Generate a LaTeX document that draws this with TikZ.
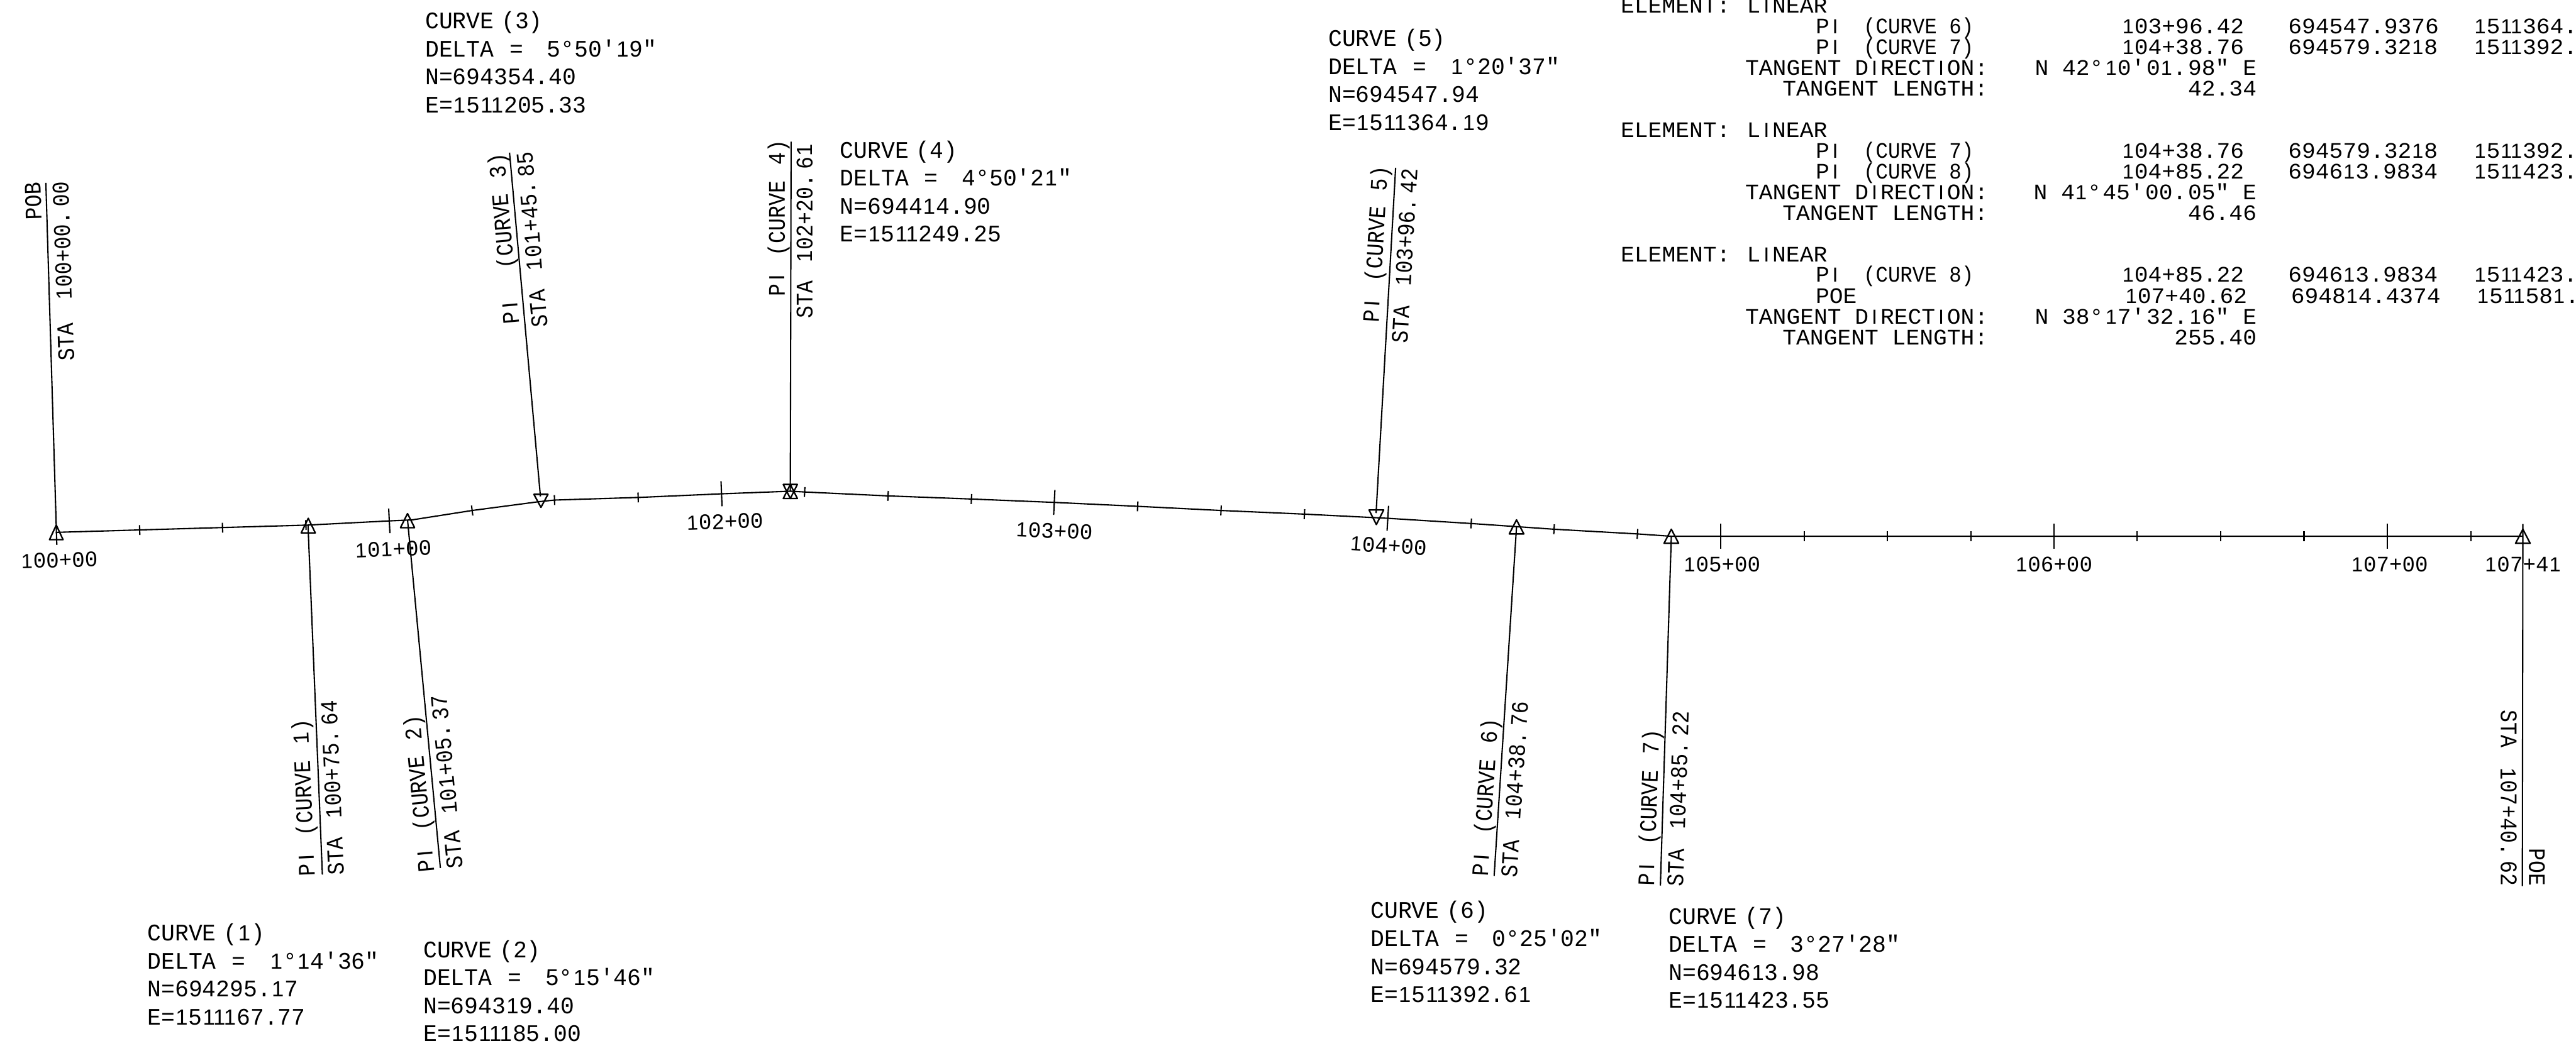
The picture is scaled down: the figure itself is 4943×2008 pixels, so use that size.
\documentclass[tikz,border=0pt]{standalone}
\usepackage{fontspec}
\setmainfont{Liberation Sans}
\newfontfamily\curvefam[FakeStretch=0.965]{Liberation Mono}
\newfontfamily\rotfam[FakeStretch=0.88]{Liberation Mono}
\newfontfamily\tabfam[FakeStretch=1.03]{Liberation Mono}
\newfontfamily\tabcfam[FakeStretch=0.92]{Liberation Mono}
\newfontfamily\stnfam[FakeStretch=0.97]{Liberation Mono}
\newfontfamily\barfam[Scale=0.92]{Liberation Sans}
% the digit 1 and the letter I are set as plain strokes, as in the CAD lettering
\newXeTeXintercharclass\oneclass
\newXeTeXintercharclass\eyeclass
\XeTeXcharclass`1=\oneclass
\XeTeXcharclass`I=\eyeclass
\newcommand\openone{\begingroup\barfam\kern.03em }
\newcommand\closeone{\kern.03em\endgroup}
\newcommand\openeye{\begingroup\barfam\kern.15em }
\newcommand\closeeye{\kern.15em\endgroup}
\XeTeXinterchartoks 0 \oneclass={\openone}
\XeTeXinterchartoks 4095 \oneclass={\openone}
\XeTeXinterchartoks \oneclass 0={\closeone}
\XeTeXinterchartoks \oneclass 4095={\closeone}
\XeTeXinterchartoks 0 \eyeclass={\openeye}
\XeTeXinterchartoks 4095 \eyeclass={\openeye}
\XeTeXinterchartoks \eyeclass 0={\closeeye}
\XeTeXinterchartoks \eyeclass 4095={\closeeye}
\XeTeXinterchartoks \oneclass \eyeclass={\closeone\openeye}
\XeTeXinterchartoks \eyeclass \oneclass={\closeeye\openone}
\newdimen\pxu \pxu=0.28453pt
\newcommand\curvefont{\XeTeXinterchartokenstate=1 \curvefam\fontsize{12.95}{15}\selectfont}
\newcommand\rotfont{\XeTeXinterchartokenstate=1 \rotfam\fontsize{12.95}{15}\selectfont}
\newcommand\tabfont{\XeTeXinterchartokenstate=1 \tabfam\fontsize{12.1}{14}\selectfont}
\newcommand\stnfont{\XeTeXinterchartokenstate=1 \stnfam\fontsize{12.1}{14}\selectfont}
% small gaps the lettering leaves after degree, minute and decimal marks
\newcommand\dg{°\kern3\pxu}
\newcommand\mn{′\kern3\pxu}
\newcommand\pd{.\kern10\pxu}
\newcommand\tpd{.\kern3\pxu}
\tikzset{
  txt/.style={inner sep=0pt,outer sep=0pt,font=\curvefont,text=black},
  rot/.style={inner sep=0pt,outer sep=0pt,font=\rotfont,text=black},
  tab/.style={inner sep=0pt,outer sep=0pt,font=\tabfont,text=black},
  stn/.style={inner sep=0pt,outer sep=0pt,font=\stnfont,text=black},
  align line/.style={line width=0.72pt,line join=round},
  leader/.style={line width=0.72pt},
  tickmark/.style={line width=0.72pt},
  pimark/.style={line width=0.8pt,line join=round}
}
\newcommand\curveblock[6]{%
  \node[txt,anchor=base west] (c#3a) at (#1,#2) {\hbox to 225\pxu{CURVE\hfil(#3)}};
  \node[txt,anchor=base west] (c#3b) at ({#1},{#2+53.8}) {\hbox to 444\pxu{DELTA\hspace{30\pxu}=\hfil #4}};
  \node[txt,anchor=base west] (c#3c) at ({#1},{#2+107.6}) {N=#5};
  \node[txt,anchor=base west] (c#3d) at ({#1},{#2+161.4}) {E=#6};
}
\newcommand\pilab[2]{\hbox to #1\pxu{PI\hfil(CURVE\hspace{30\pxu}#2)}}
\newcommand\stalab[2]{\hbox to #1\pxu{STA\hfil #2}}
\newcommand\triup[4]{\draw[pimark] (#1,#2) -- ({#1-#4},#3) -- ({#1+#4},#3) -- cycle;}
\newcommand\tpi[1]{PI\hfil{\tabcfam (CURVE #1)}}
\newcommand\tabrow[7]{%
  \node[tab,anchor=base west] at (3484,#1) {\hbox to 303\pxu{#2}};
  \node[tab,anchor=base east] at (#3,#1) {#4};
  \node[tab,anchor=base west] at (#5,#1) {#6};
  \node[tab,anchor=base west] at ({#5+356.4},#1) {#7};
}
\newcommand\tabblock[3]{%
  \node[tab,anchor=base west] at (3110,#1) {ELEMENT:};
  \node[tab,anchor=base west] at (3352,#1) {LINEAR};
  \node[tab,anchor=base east] at (3815,{#1+119.5}) {TANGENT DIRECTION:};
  \node[tab,anchor=base east] at (3815,{#1+159}) {TANGENT LENGTH:};
  \node[tab,anchor=base east] at (4330,{#1+119.5}) {#2};
  \node[tab,anchor=base east] at (4330,{#1+159}) {#3};
}
\begin{document}
\begin{tikzpicture}[x=0.01cm,y=-0.01cm]
\useasboundingbox (0,0) rectangle (4943,2008);
% alignment
\draw[align line] (107,1022) -- (591,1008) -- (747,1000) -- (791,998) -- (906,980) -- (1035,963) -- (1064,960) -- (1224.5,955) -- (1384.5,948) -- (1516.5,943) -- (1544,944.5) -- (1704,952) -- (1864,958) -- (2023,964.5) -- (2183,972) -- (2343,980) -- (2503,987) -- (2663,995) -- (2823,1005) -- (2910,1011) -- (2982,1016) -- (3142,1025) -- (3207,1029.5) -- (4841,1029.5);
% ticks: x/y/half length/slope
\foreach \x/\y/\h/\s in {268/1017.5/9.5/-0.03,427/1013/9.5/-0.03,587/1008/9.5/-0.03,747/1000/23.5/-0.05,906/980/9.5/-0.13,1064/960/9.5/-0.03,1224.5/955/9.5/-0.03,1384.5/948/24/-0.04,1544/944.5/9.5/0.05,1704/952/9.5/0.05,1864/958/9.5/0.05,2023/964.5/24/0.05,2183/972/9.5/0.05,2343/980/9.5/0.05,2503/987/9.5/0.05,2663/995/24/0.06,2823/1005/9.5/0.06,2982/1016/9.5/0.06,3142/1025/9.5/0.06,3302/1029.5/24/0,3462/1029.5/9.5/0,3622/1029.5/9.5/0,3782/1029.5/9.5/0,3941/1029.5/24/0,4101/1029.5/9.5/0,4261/1029.5/9.5/0,4421/1029.5/9.5/0,4581/1029.5/24/0,4741/1029.5/9.5/0}{
  \draw[tickmark] ({\x+\s*\h},{\y-\h}) -- ({\x-\s*\h},{\y+\h});
}
% PI marks
\triup{108}{1008}{1036}{13}
\triup{591.5}{995}{1023}{13.5}
\triup{782}{986}{1013}{13.5}
\triup{1038}{974}{949}{13.5}
\triup{1516.5}{930}{957}{13.5}
\triup{1516.5}{957}{930}{13.5}
\triup{2641}{1007}{979}{14}
\triup{2910}{998}{1025}{14}
\triup{3207}{1016}{1043}{14}
\triup{4841}{1016}{1043}{14}
% leader end points
\coordinate (pobT) at (88,351);     \coordinate (pobB) at (109,1046);
\coordinate (l1T) at (591,1008);    \coordinate (l1B) at (618.6,1679);
\coordinate (l2T) at (782,998);     \coordinate (l2B) at (845,1666.4);
\coordinate (l3T) at (977.7,293);   \coordinate (l3B) at (1037,953);
\coordinate (l4T) at (1518,272);    \coordinate (l4B) at (1516.5,943);
\coordinate (l5T) at (2678,322);    \coordinate (l5B) at (2640.5,985);
\coordinate (l6T) at (2910,1011);   \coordinate (l6B) at (2867,1681.6);
\coordinate (l7T) at (3207,1029.5); \coordinate (l7B) at (3186,1700);
\coordinate (poeT) at (4841,1006);  \coordinate (poeB) at (4840,1701);
\foreach \a/\b in {pobT/pobB,l1T/l1B,l2T/l2B,l3T/l3B,l4T/l4B,l5T/l5B,l6T/l6B,l7T/l7B,poeT/poeB}
  \draw[leader] (\a) -- (\b);
% leader labels
\node[rot,anchor=base east,rotate=91.9] (pobA) at (77.5,350) {POB};
\node[rot,anchor=base east,rotate=91.9] (pobS) at (131,348) {\stalab{344}{100+00\pd 00}};
\node[rot,anchor=base west,rotate=92.4] (p1a) at (604,1682) {\pilab{302}{1}};
\node[rot,anchor=base west,rotate=92.4] (p1b) at (660,1679) {\stalab{335}{100+75\pd 64}};
\node[rot,anchor=base west,rotate=95.4] (p2a) at (833.5,1673) {\pilab{302}{2}};
\node[rot,anchor=base west,rotate=95.4] (p2b) at (888,1665.5) {\stalab{333.5}{101+05\pd 37}};
\node[rot,anchor=base east,rotate=95.1] (p3a) at (967,293) {\pilab{329}{3}};
\node[rot,anchor=base east,rotate=95.1] (p3b) at (1021,290) {\stalab{338}{101+45\pd 85}};
\node[rot,anchor=base east,rotate=90] (p4a) at (1506,269) {\pilab{300}{4}};
\node[rot,anchor=base east,rotate=90] (p4b) at (1559,275.5) {\stalab{335.5}{102+20\pd 61}};
\node[rot,anchor=base east,rotate=86.7] (p5a) at (2663,319) {\pilab{301}{5}};
\node[rot,anchor=base east,rotate=86.7] (p5b) at (2720,323.7) {\stalab{336}{103+96\pd 42}};
\node[rot,anchor=base west,rotate=86.3] (p6a) at (2855,1683) {\pilab{303}{6}};
\node[rot,anchor=base west,rotate=86.3] (p6b) at (2910.5,1685) {\stalab{338}{104+38\pd 76}};
\node[rot,anchor=base west,rotate=88.1] (p7a) at (3174,1701.5) {\pilab{301}{7}};
\node[rot,anchor=base west,rotate=88.1] (p7b) at (3229.5,1702.5) {\stalab{336.5}{104+85\pd 22}};
\node[rot,anchor=base east,rotate=-90] (poeA) at (4853,1701) {POE};
\node[rot,anchor=base east,rotate=-90] (poeS) at (4799,1701) {\stalab{338}{107+40\pd 62}};
% station labels
\node[stn,anchor=base,rotate=1.6] (s100) at (114,1089.5) {100+00};
\node[stn,anchor=base,rotate=2.4] (s101) at (755,1068) {101+00};
\node[stn,anchor=base,rotate=2] (s102) at (1391,1015.5) {102+00};
\node[stn,anchor=base,rotate=-2.5] (s103) at (2022,1033) {103+00};
\node[stn,anchor=base,rotate=-3.5] (s104) at (2663,1061.5) {104+00};
\node[stn,anchor=base] (s105) at (3304,1097) {105+00};
\node[stn,anchor=base] (s106) at (3941,1097) {106+00};
\node[stn,anchor=base] (s107) at (4585,1097) {107+00};
\node[stn,anchor=base] (s141) at (4841,1097) {107+41};
% curve data
\curveblock{283}{1806}{1}{1°14′36"}{694295.17}{1511167.77}
\curveblock{812.5}{1838}{2}{5°15′46"}{694319.40}{1511185.00}
\curveblock{816}{55}{3}{5°50′19"}{694354.40}{1511205.33}
\curveblock{1612}{303}{4}{4°50′21"}{694414.90}{1511249.25}
\curveblock{2549}{89}{5}{1°20′37"}{694547.94}{1511364.19}
\curveblock{2630}{1763}{6}{0°25′02"}{694579.32}{1511392.61}
\curveblock{3202}{1774}{7}{3°27′28"}{694613.98}{1511423.55}
% element table
\tabblock{24.5}{N 42\dg 10\mn 01\tpd 98" E}{42.34}
\tabrow{65}{\tpi{6}}{4306}{103+96.42}{4390.6}{694547.9376}{1511364.}
\tabrow{104}{\tpi{7}}{4306}{104+38.76}{4390.6}{694579.3218}{1511392.}
\tabblock{264}{N 41\dg 45\mn 00\tpd 05" E}{46.46}
\tabrow{303.5}{\tpi{7}}{4306}{104+38.76}{4390.6}{694579.3218}{1511392.}
\tabrow{343}{\tpi{8}}{4306}{104+85.22}{4390.6}{694613.9834}{1511423.}
\tabblock{502.5}{N 38\dg 17\mn 32\tpd 16" E}{255.40}
\tabrow{541.5}{\tpi{8}}{4306}{104+85.22}{4390.6}{694613.9834}{1511423.}
\tabrow{581.7}{POE\hfil}{4312}{107+40.62}{4396}{694814.4374}{1511581.}
\end{tikzpicture}
\end{document}
